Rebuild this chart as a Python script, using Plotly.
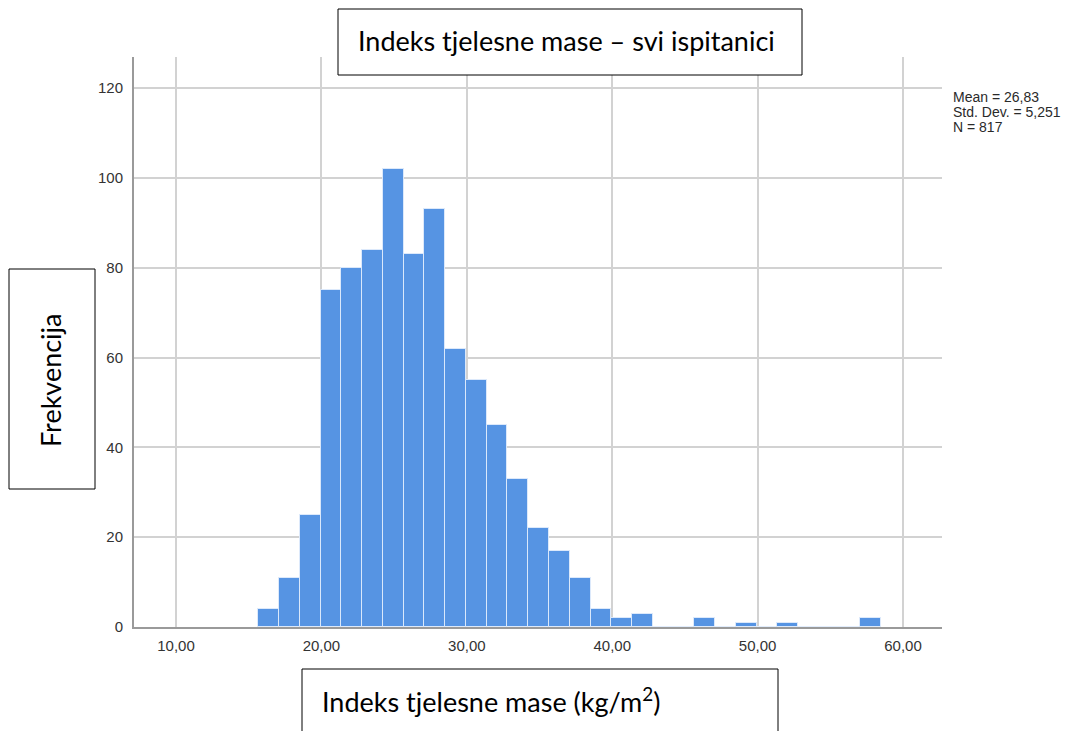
import plotly.graph_objects as go

# ---- data ----
bin_start = 15.66
bin_width = 1.428
counts = [4, 11, 25, 75, 80, 84, 102, 83, 93, 62, 55, 45, 33, 22, 17, 11, 4, 2, 3,
          0, 0, 2, 0, 1, 0, 1, 0, 0, 0, 2]
x_tickvals = [10, 20, 30, 40, 50, 60]
x_ticktext = ["10,00", "20,00", "30,00", "40,00", "50,00", "60,00"]
y_tickvals = [0, 20, 40, 60, 80, 100, 120]
title_text = "Indeks tjelesne mase – svi ispitanici"
xlabel_text = "Indeks tjelesne mase (kg/m<sup>2</sup>)"
ylabel_text = "Frekvencija"
stats_lines = ["Mean = 26,83", "Std. Dev. = 5,251", "N = 817"]

# ---- layout geometry (page pixels; the page body adds an 8px offset) ----
OFF = 8
FW, FH = 1075 - OFF, 731 - OFF
L, T = 134 - OFF, 57 - OFF
R = FW - (942 - OFF)
B = FH - (627 - OFF)
PW, PH = FW - L - R, FH - T - B


def px(p):
    return (p - OFF - L) / PW


def py(p):
    return (FH - B - (p - OFF)) / PH


centers = [bin_start + bin_width * (i + 0.5) for i in range(len(counts))]

fig = go.Figure()
fig.add_trace(go.Bar(
    x=centers, y=counts, width=[bin_width] * len(counts),
    marker=dict(color="#5694E3", line=dict(color="rgba(225,236,252,0.9)", width=1)),
    showlegend=False,
))

grid = "#d2d2d2"
tickfont = dict(family="Liberation Sans, Arial", size=15, color="#333333")
fig.update_layout(
    width=FW, height=FH,
    margin=dict(l=L, r=R, t=T, b=B, pad=0),
    plot_bgcolor="white", paper_bgcolor="white",
    bargap=0,
    xaxis=dict(range=[7.11, 62.68], tickvals=x_tickvals, ticktext=x_ticktext,
               showgrid=True, gridcolor=grid, gridwidth=1.5,
               showline=True, linecolor="#9a9a9a", linewidth=2,
               ticks="", zeroline=False, ticklabelstandoff=4, tickfont=tickfont),
    yaxis=dict(range=[0, 126.9], tickvals=y_tickvals,
               showgrid=True, gridcolor=grid, gridwidth=1.5,
               showline=True, linecolor="#9a9a9a", linewidth=2,
               ticks="", zeroline=False, ticklabelstandoff=6, tickfont=tickfont),
    font=dict(family="Lato, Open Sans, sans-serif"),
)

box_line = dict(color="black", width=1)
shapes = [
    dict(type="rect", xref="paper", yref="paper", x0=px(338), x1=px(802), y0=py(75), y1=py(9),
         line=box_line, fillcolor="white", layer="above"),
    dict(type="rect", xref="paper", yref="paper", x0=px(9), x1=px(95), y0=py(489), y1=py(269),
         line=box_line, fillcolor="white", layer="above"),
    dict(type="rect", xref="paper", yref="paper", x0=px(302), x1=px(778), y0=py(745), y1=py(669),
         line=box_line, fillcolor="white", layer="above"),
]
fig.update_layout(shapes=shapes)

big = dict(family="Lato, Open Sans, sans-serif", size=27, color="black")
fig.add_annotation(text=title_text, xref="paper", yref="paper", x=px(566), y=py(41),
                   xanchor="center", yanchor="middle", showarrow=False, font=big)
fig.add_annotation(text=ylabel_text, xref="paper", yref="paper", x=px(50), y=py(380),
                   xanchor="center", yanchor="middle", showarrow=False, textangle=-90, font=big)
fig.add_annotation(text=xlabel_text, xref="paper", yref="paper", x=px(320), y=py(700),
                   xanchor="left", yanchor="middle", showarrow=False, font=big)
for i, line in enumerate(stats_lines):
    fig.add_annotation(text=line, xref="paper", yref="paper", x=px(951), y=py(97 + 15 * i),
                       xanchor="left", yanchor="middle", align="left", showarrow=False,
                       font=dict(family="Liberation Sans, Arial", size=14, color="#2a2a2a"))

fig.write_html("out.html")
